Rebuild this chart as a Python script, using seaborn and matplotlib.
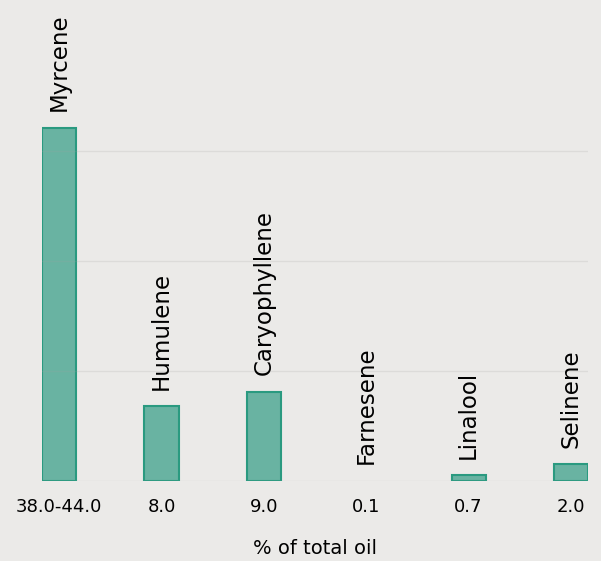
import matplotlib
matplotlib.use("Agg")
import matplotlib.pyplot as plt
import seaborn as sns
import pandas as pd

compounds = ["Myrcene", "Humulene", "Caryophyllene", "Farnesene", "Linalool", "Selinene"]
tick_labels = ["38.0-44.0", "8.0", "9.0", "0.1", "0.7", "2.0"]
values = [32.1, 6.8, 8.1, 0.0, 0.5, 1.5]

df = pd.DataFrame({"label": tick_labels, "value": values, "compound": compounds})

sns.set_theme(style="white")
plt.rcParams["font.family"] = ["DejaVu Sans"]

bg = "#ebeae8"
fig = plt.figure(figsize=(6.01, 5.61), dpi=100, facecolor=bg)
ax = fig.add_axes([42 / 601, 80 / 561, 546 / 601, 481 / 561], facecolor=bg)

sns.barplot(data=df, x="label", y="value", color="#69b3a2", saturation=1,
            edgecolor="#2a9a80", linewidth=1.5, width=0.333, ax=ax)
for p in ax.patches:
    if p.get_height() <= 0:
        p.set_linewidth(0)

ax.set_xlim(-0.167, 5.167)
ax.set_ylim(0, 43.7)
ax.set_yticks([0, 10, 20, 30])
ax.set_yticklabels([])
ax.yaxis.grid(True, color="#a0a0a0", linewidth=1, alpha=0.2)
ax.set_axisbelow(False)
ax.tick_params(axis="y", length=0)
ax.tick_params(axis="x", length=0, pad=12, labelsize=13, colors="black")
for s in ax.spines.values():
    s.set_visible(False)

for i, (c, v) in enumerate(zip(compounds, values)):
    ax.text(i, v + 1.5, c, rotation=90, ha="center", va="bottom",
            fontsize=16.5, color="black")

ax.set_ylabel("")
ax.set_xlabel("% of total oil", fontsize=14, color="black", labelpad=17)

fig.savefig("out.png", dpi=100, facecolor=bg)
